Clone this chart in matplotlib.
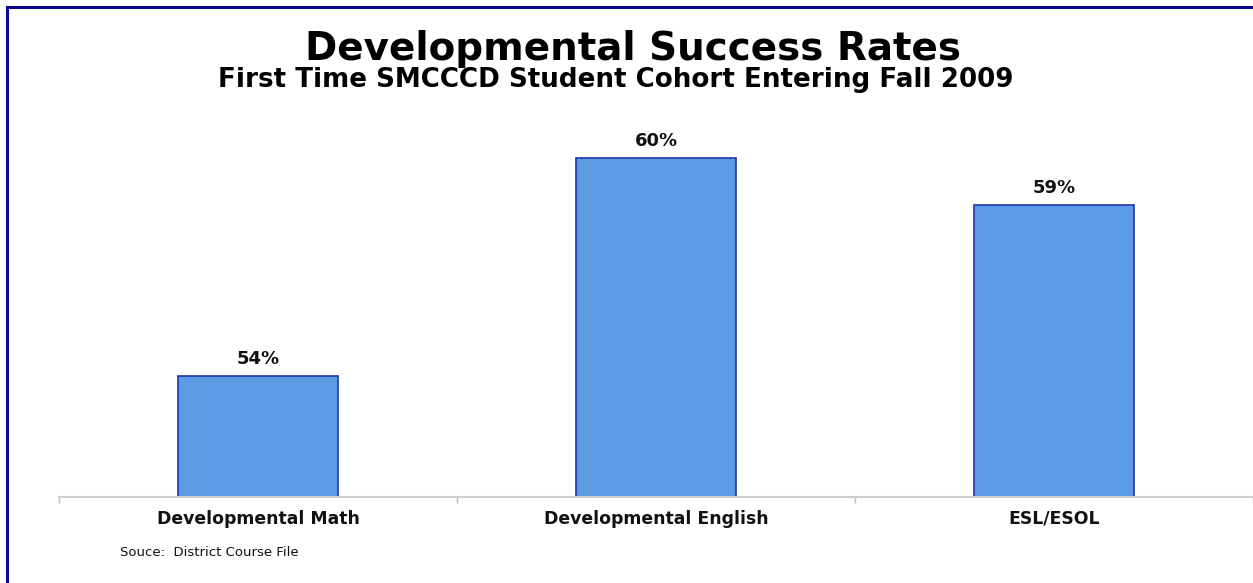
import matplotlib
matplotlib.use("Agg")
import matplotlib.pyplot as plt
from matplotlib.lines import Line2D
from matplotlib.ticker import FixedLocator, NullFormatter

categories = ["Developmental Math", "Developmental English", "ESL/ESOL"]
values = [0.536, 0.601, 0.587]
labels = ["54%", "60%", "59%"]

W, H = 1253, 583
fig = plt.figure(figsize=(W / 100, H / 100), dpi=100)
fig.patch.set_facecolor("white")

font = "DejaVu Sans"
ax = fig.add_axes([59 / W, 1 - 497 / H, (W - 59) / W, 396 / H])
x = list(range(len(categories)))
ax.bar(x, values, width=0.40, color="#5B9BE3", edgecolor="#2233AA", linewidth=1.2, bottom=0)
ax.set_xlim(-0.5, len(categories) - 0.5)
ax.set_ylim(0.50, 0.618)
for s in ["top", "right", "left"]:
    ax.spines[s].set_visible(False)
ax.spines["bottom"].set_color("#CFCFCF")
ax.spines["bottom"].set_linewidth(1.5)
ax.set_yticks([])
ax.set_xticks(x)
ax.set_xticklabels(categories, fontsize=12.4, fontweight="bold", family=font, color="#111111")
ax.tick_params(axis="x", length=0, pad=9)
ax.xaxis.set_minor_locator(FixedLocator([-0.5, 0.5, 1.5, 2.5]))
ax.tick_params(axis="x", which="minor", length=4, color="#BBBBBB", width=1)
ax.xaxis.set_minor_formatter(NullFormatter())

for xi, v, lab in zip(x, values, labels):
    ax.annotate(lab, (xi, v), xytext=(0, 6), textcoords="offset points",
                ha="center", va="bottom", fontsize=13, fontweight="bold",
                family=font, color="#111111")

fig.text(633 / W, 1 - 49 / H, "Developmental Success Rates", ha="center", va="center",
         fontsize=28, fontweight="bold", family=font, color="#000000")
fig.text(616 / W, 1 - 80 / H, "First Time SMCCCD Student Cohort Entering Fall 2009",
         ha="center", va="center", fontsize=18.8, fontweight="bold", family=font, color="#000000")
fig.text(120 / W, 1 - 553 / H, "Souce:  District Course File", ha="left", va="center",
         fontsize=9.5, family=font, color="#111111")

# frame border (top and left visible)
fig.add_artist(Line2D([7 / W, 1.0], [1 - 7 / H, 1 - 7 / H], transform=fig.transFigure,
                      color="#0A0A8C", linewidth=2.2))
fig.add_artist(Line2D([7 / W, 7 / W], [0.0, 1 - 7 / H], transform=fig.transFigure,
                      color="#0A0A8C", linewidth=2.2))

fig.savefig("out.png", dpi=100, facecolor="white")
